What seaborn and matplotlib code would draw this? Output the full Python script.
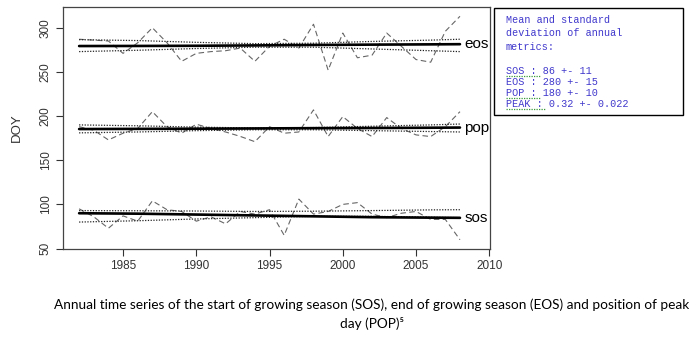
import matplotlib
matplotlib.use("Agg")
import matplotlib.pyplot as plt
import seaborn as sns
import pandas as pd
from matplotlib.patches import Rectangle
from matplotlib.lines import Line2D

# ---- data ----
years = list(range(1982, 2009))
eos = [287, 286, 285, 271, 283, 300, 283, 262, 271, 273, 274, 277, 262, 279,
       287, 277, 304, 252, 294, 266, 269, 294, 279, 264, 261, 296, 313]
pop = [188, 184, 173, 180.6, 186, 205, 188, 180.6, 190.8, 186, 182, 177, 171, 188,
       180.6, 182, 207, 176.8, 199.4, 186, 176.8, 198.3, 186, 178.7, 176.8, 188, 205]
sos = [95, 86, 73, 87, 81, 104, 94, 92, 81, 86, 78, 92, 89, 94,
       65, 106, 89, 92, 100, 102, 89, 85, 90, 92, 83, 83, 60]

key_years = [1982, 1986, 1990, 1994, 1998, 2002, 2006, 2008]
eos_trend = [279.3, 279.4, 279.6, 280.0, 280.5, 280.9, 281.2, 281.4]
eos_upper = [286.5, 285.5, 283.5, 282.0, 282.5, 284.5, 286.0, 287.0]
eos_lower = [273.0, 274.5, 276.5, 278.0, 278.0, 276.0, 274.0, 273.0]
pop_trend = [185.3, 185.5, 185.7, 186.0, 186.3, 186.5, 186.8, 187.0]
pop_upper = [190.0, 189.0, 187.5, 186.5, 187.0, 188.5, 190.0, 191.0]
pop_lower = [181.0, 182.0, 183.5, 184.5, 184.5, 183.5, 182.5, 182.0]
sos_trend = [90.0, 89.5, 88.5, 87.5, 86.5, 85.5, 85.0, 84.8]
sos_upper = [93.0, 92.8, 92.5, 92.0, 92.3, 93.0, 93.8, 94.0]
sos_lower = [80.0, 81.5, 83.5, 85.0, 86.5, 86.5, 85.5, 85.0]

series_names = ["eos", "pop", "sos"]
x_ticks = [1985, 1990, 1995, 2000, 2005, 2010]
y_ticks = [50, 100, 150, 200, 250, 300]

legend_lines = ["Mean and standard", "deviation of annual", "metrics:",
                "SOS : 86 +- 11", "EOS : 280 +- 15", "POP : 180 +- 10",
                "PEAK : 0.32 +- 0.022"]
caption1 = "Annual time series of the start of growing season (SOS), end of growing season (EOS) and position of peak"
caption2 = "day (POP)\u2075"

# ---- build tables ----
annual = pd.DataFrame({"year": years * 3,
                       "doy": eos + pop + sos,
                       "metric": ["eos"] * len(years) + ["pop"] * len(years) + ["sos"] * len(years)})
trend_df = pd.DataFrame({"year": key_years * 3,
                         "trend": eos_trend + pop_trend + sos_trend,
                         "upper": eos_upper + pop_upper + sos_upper,
                         "lower": eos_lower + pop_lower + sos_lower,
                         "metric": ["eos"] * len(key_years) + ["pop"] * len(key_years) + ["sos"] * len(key_years)})

sns.set_theme(style="white")
plt.rcParams["font.family"] = ["Liberation Sans", "DejaVu Sans"]
SANS = "Liberation Sans"

fig = plt.figure(figsize=(6.97, 3.40), dpi=100)
ax = fig.add_axes([63 / 697, 1 - 249 / 340, (490 - 63) / 697, (249 - 7) / 340])

for name in series_names:
    sub = annual[annual.metric == name]
    sns.lineplot(data=sub, x="year", y="doy", ax=ax, color="#666666", lw=0.8,
                 linestyle=(0, (5, 3)), estimator=None)
    tsub = trend_df[trend_df.metric == name]
    sns.lineplot(data=tsub, x="year", y="upper", ax=ax, color="#222222", lw=0.9,
                 linestyle=(0, (1, 1.2)), estimator=None)
    sns.lineplot(data=tsub, x="year", y="lower", ax=ax, color="#222222", lw=0.9,
                 linestyle=(0, (1, 1.2)), estimator=None)
    sns.lineplot(data=tsub, x="year", y="trend", ax=ax, color="black", lw=1.9,
                 estimator=None)
    ax.text(key_years[-1] + 0.3, tsub["trend"].iloc[-1], name, fontsize=11,
            va="center", ha="left", color="black", fontfamily=SANS)

ax.set_xlim(1980.9, 2010.05)
ax.set_ylim(49.5, 323.5)
ax.set_xticks(x_ticks)
ax.set_yticks(y_ticks)
ax.set_xticklabels([str(t) for t in x_ticks], fontsize=8.5, color="#333333",
                   fontfamily=SANS)
ax.set_yticklabels([str(t) for t in y_ticks], fontsize=8.5, color="#333333",
                   rotation=90, va="center", fontfamily=SANS)
ax.tick_params(axis="both", direction="out", length=5, width=0.8, color="#333333",
               bottom=True, left=True, pad=3)
ax.set_xlabel("")
ax.set_ylabel("DOY", fontsize=9.5, color="#333333", labelpad=12, fontfamily=SANS)
for sp in ax.spines.values():
    sp.set_visible(True)
    sp.set_color("#444444")
    sp.set_linewidth(0.9)

# legend box (outside the axes)
fig.patches.append(Rectangle((494 / 697, 1 - 115 / 340), (683 - 494) / 697, (115 - 8) / 340,
                             transform=fig.transFigure, fill=False, edgecolor="black",
                             lw=1.0))
legend_y = [20, 33, 46.5, 71, 82, 93, 104]
for line, ly in zip(legend_lines, legend_y):
    fig.text(506 / 697, 1 - ly / 340, line, fontsize=7.3,
             fontfamily="Liberation Mono", color="#4038cc",
             va="center", ha="left")
# spell-check squiggles under some words
for ly, x1 in [(75.5, 540), (97.5, 540), (108.5, 546)]:
    fig.lines.append(Line2D([506 / 697, x1 / 697], [1 - ly / 340, 1 - ly / 340],
                            transform=fig.transFigure, color="#3a9a3a", lw=0.9,
                            linestyle=(0, (1, 1))))

# caption
fig.text(372 / 697, 1 - 305 / 340, caption1, fontsize=9.8,
         fontfamily="Lato", ha="center", va="center", color="black")
fig.text(372 / 697, 1 - 323 / 340, caption2, fontsize=9.8,
         fontfamily="Lato", ha="center", va="center", color="black")

fig.savefig("out.png", dpi=100)
